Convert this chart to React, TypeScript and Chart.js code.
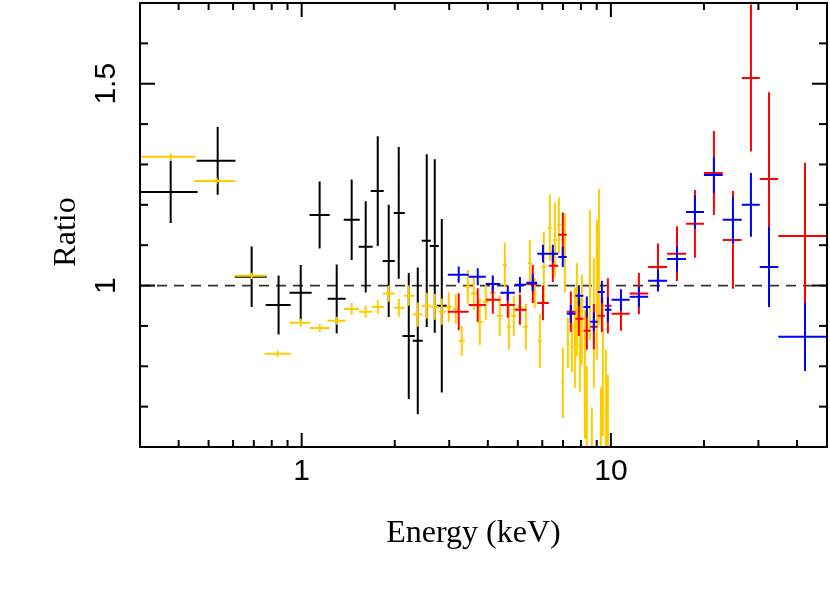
import React, { useEffect, useRef } from 'react';
import { Chart, registerables } from 'chart.js';

Chart.register(...registerables);

// ---------- axes ----------
const X_MIN = 0.3;
const X_MAX = 50;
const Y_MIN = 0.6;
const Y_MAX = 1.7;
const X_TICKS = [0.3, 0.4, 0.5, 0.6, 0.7, 0.8, 0.9, 1, 2, 3, 4, 5, 6, 7, 8, 9, 10, 20, 30, 40, 50];
const X_MAJOR = [1, 10];
const X_TICK_LABELS: Record<string, string> = { '1': '1', '10': '10' };
const Y_TICKS = [0.6, 0.7, 0.8, 0.9, 1.0, 1.1, 1.2, 1.3, 1.4, 1.5, 1.6, 1.7];
const Y_MAJOR = [1, 1.5];
const Y_TICK_LABELS: Record<string, string> = { '1': '1', '1.5': '1.5' };
const X_TITLE = 'Energy (keV)';
const Y_TITLE = 'Ratio';
const REF_LINE = 1;

// ---------- black series ----------
const BLACK_E = [0.377, 0.535, 0.689, 0.842, 0.993, 1.143, 1.298, 1.451, 1.611, 1.762, 1.912, 2.06, 2.22, 2.374, 2.538, 2.694, 2.839];
const BLACK_E_LO = [0.301, 0.457, 0.607, 0.765, 0.914, 1.061, 1.214, 1.368, 1.529, 1.672, 1.828, 1.985, 2.12, 2.286, 2.445, 2.596, 2.735];
const BLACK_E_HI = [0.461, 0.611, 0.77, 0.921, 1.077, 1.232, 1.388, 1.541, 1.697, 1.842, 2.0, 2.155, 2.321, 2.464, 2.616, 2.776, 2.946];
const BLACK_RATIO = [1.232, 1.309, 1.022, 0.952, 0.982, 1.175, 0.967, 1.163, 1.096, 1.234, 1.061, 1.18, 0.875, 0.863, 1.111, 1.098, 0.95];
const BLACK_ERR = [0.077, 0.084, 0.075, 0.073, 0.069, 0.083, 0.085, 0.1, 0.113, 0.136, 0.139, 0.163, 0.156, 0.182, 0.214, 0.215, 0.215];

// ---------- gold series ----------
const GOLD_E = [0.377, 0.531, 0.689, 0.836, 0.993, 1.144, 1.298, 1.451, 1.611, 1.762, 1.913, 2.061, 2.22, 2.374, 2.538, 2.694, 2.839, 2.991, 3.15, 3.294, 3.445, 3.602, 3.767, 3.939, 4.15, 4.372, 4.539, 4.677, 4.854, 5.076, 5.308, 5.469, 5.675, 5.891, 6.07, 6.347, 6.589, 6.788, 6.993, 7.098, 7.259, 7.479, 7.648, 7.763, 7.938, 8.057, 8.24, 8.362, 8.551, 8.68, 8.811, 9.01, 9.146, 9.282, 9.421, 9.634, 9.78];
const GOLD_E_LO = [0.301, 0.45, 0.607, 0.759, 0.914, 1.061, 1.214, 1.368, 1.529, 1.685, 1.829, 1.985, 2.139, 2.287, 2.445, 2.615, 2.776, 2.924, 3.081, 3.222, 3.369, 3.523, 3.683, 3.852, 4.058, 4.276, 4.47, 4.61, 4.76, 4.98, 5.2, 5.39, 5.59, 5.81, 5.98, 6.25, 6.49, 6.69, 6.9, 7.05, 7.18, 7.4, 7.57, 7.72, 7.86, 8.02, 8.15, 8.32, 8.47, 8.63, 8.74, 8.93, 9.08, 9.21, 9.35, 9.56, 9.71];
const GOLD_E_HI = [0.454, 0.611, 0.765, 0.921, 1.069, 1.232, 1.388, 1.529, 1.697, 1.843, 2.0, 2.154, 2.321, 2.463, 2.615, 2.776, 2.924, 3.058, 3.222, 3.369, 3.523, 3.683, 3.852, 4.028, 4.243, 4.471, 4.61, 4.76, 4.95, 5.18, 5.39, 5.55, 5.76, 5.98, 6.16, 6.44, 6.69, 6.89, 7.05, 7.18, 7.35, 7.56, 7.72, 7.85, 8.02, 8.14, 8.32, 8.42, 8.63, 8.74, 8.88, 9.08, 9.21, 9.35, 9.49, 9.71, 9.85];
const GOLD_RATIO = [1.319, 1.259, 1.024, 0.831, 0.908, 0.895, 0.913, 0.942, 0.935, 0.947, 0.98, 0.945, 0.975, 0.928, 0.95, 0.947, 0.935, 0.947, 0.942, 0.863, 0.997, 0.98, 0.91, 0.96, 0.982, 0.925, 1.051, 0.898, 0.925, 0.947, 0.898, 1.056, 0.982, 0.863, 1.046, 1.143, 1.113, 1.15, 0.759, 1.081, 0.858, 0.848, 0.871, 0.94, 0.853, 0.915, 0.78, 0.7, 1.027, 0.618, 0.908, 0.989, 1.071, 0.648, 0.799, 0.705, 0.655];
const GOLD_ERR = [0.008, 0.008, 0.008, 0.008, 0.01, 0.01, 0.01, 0.015, 0.015, 0.017, 0.02, 0.022, 0.025, 0.03, 0.032, 0.032, 0.032, 0.037, 0.037, 0.037, 0.042, 0.04, 0.057, 0.045, 0.037, 0.05, 0.055, 0.057, 0.05, 0.042, 0.057, 0.057, 0.037, 0.067, 0.087, 0.082, 0.092, 0.069, 0.087, 0.099, 0.062, 0.062, 0.124, 0.116, 0.116, 0.111, 0.16, 0.1, 0.161, 0.08, 0.161, 0.173, 0.168, 0.1, 0.173, 0.136, 0.124];

// ---------- hard-band bins shared by red and blue ----------
const HARD_E = [3.22, 3.71, 4.15, 4.64, 5.08, 5.59, 6.03, 6.49, 6.99, 7.42, 7.88, 8.36, 8.81, 9.35, 9.78, 10.78, 12.32, 14.2, 16.36, 18.7, 21.54, 24.82, 28.38, 32.46, 42.45];
const HARD_E_LO = [2.97, 3.47, 3.94, 4.39, 4.89, 5.33, 5.78, 6.3, 6.76, 7.2, 7.68, 8.15, 8.58, 9.06, 9.56, 10.05, 11.5, 13.2, 15.2, 17.5, 20.0, 23.0, 26.5, 30.3, 34.8];
const HARD_E_HI = [3.47, 3.94, 4.39, 4.89, 5.33, 5.78, 6.3, 6.76, 7.2, 7.68, 8.15, 8.58, 9.06, 9.56, 10.05, 11.5, 13.2, 15.2, 17.5, 20.0, 23.0, 26.5, 30.3, 34.8, 50.0];
const RED_RATIO = [0.935, 0.952, 0.965, 0.952, 0.94, 1.004, 0.957, 1.049, 1.126, 0.935, 0.918, 0.888, 0.898, 0.925, 0.95, 0.93, 0.98, 1.046, 1.079, 1.153, 1.279, 1.113, 1.514, 1.264, 1.123];
const RED_ERR = [0.046, 0.041, 0.035, 0.032, 0.037, 0.047, 0.043, 0.04, 0.055, 0.05, 0.043, 0.047, 0.056, 0.04, 0.068, 0.042, 0.051, 0.058, 0.068, 0.084, 0.104, 0.121, 0.182, 0.215, 0.181];
const BLUE_RATIO = [1.027, 1.022, 1.004, 0.982, 1.002, 1.007, 1.079, 1.079, 1.071, 0.93, 0.975, 0.947, 0.91, 0.984, 0.94, 0.965, 0.972, 1.012, 1.066, 1.182, 1.274, 1.163, 1.2, 1.046, 0.873];
const BLUE_ERR = [0.02, 0.021, 0.021, 0.019, 0.019, 0.021, 0.022, 0.022, 0.025, 0.022, 0.026, 0.026, 0.024, 0.028, 0.031, 0.026, 0.025, 0.027, 0.031, 0.041, 0.045, 0.057, 0.079, 0.099, 0.085];

type Pt = { x: number; y: number | null };

function crosses(xc: number[], xlo: number[], xhi: number[], y: number[], ye: number[]): Pt[] {
  const pts: Pt[] = [];
  for (let i = 0; i < xc.length; i++) {
    pts.push({ x: xlo[i], y: y[i] }, { x: xhi[i], y: y[i] }, { x: xc[i], y: null });
    pts.push({ x: xc[i], y: y[i] - ye[i] }, { x: xc[i], y: y[i] + ye[i] }, { x: xc[i], y: null });
  }
  return pts;
}

function errDataset(label: string, color: string, data: Pt[], order: number) {
  return {
    label,
    data,
    showLine: true,
    spanGaps: false,
    borderColor: color,
    backgroundColor: color,
    borderWidth: 2,
    borderCapStyle: 'butt' as const,
    pointRadius: 0,
    pointHoverRadius: 0,
    tension: 0,
    order,
  };
}

const SANS = '"Liberation Sans", Arial, Helvetica, sans-serif';
const SERIF = '"Liberation Serif", "Times New Roman", Times, serif';

const framePlugin = {
  id: 'frameTicks',
  afterDraw(chart: any) {
    const { ctx, chartArea: a, scales } = chart;
    const xs = scales.x;
    const ys = scales.y;
    ctx.save();
    ctx.strokeStyle = '#000';
    ctx.lineWidth = 2;
    ctx.lineCap = 'butt';
    const seg = (x1: number, y1: number, x2: number, y2: number) => {
      ctx.beginPath();
      ctx.moveTo(x1, y1);
      ctx.lineTo(x2, y2);
      ctx.stroke();
    };
    xs.ticks.forEach((t: any) => {
      const px = xs.getPixelForValue(t.value);
      if (px <= a.left + 1 || px >= a.right - 1) return;
      const len = X_MAJOR.includes(t.value) ? 14 : 7;
      seg(px, a.bottom, px, a.bottom - len);
      seg(px, a.top, px, a.top + len);
    });
    ys.ticks.forEach((t: any) => {
      const py = ys.getPixelForValue(t.value);
      if (py <= a.top + 1 || py >= a.bottom - 1) return;
      const major = Y_MAJOR.some((m) => Math.abs(m - t.value) < 1e-9);
      const len = major ? 15 : 8;
      seg(a.left, py, a.left + len, py);
      seg(a.right, py, a.right - len, py);
    });
    ctx.strokeRect(a.left, a.top, a.right - a.left, a.bottom - a.top);

    ctx.fillStyle = '#000';
    ctx.font = `32px ${SERIF}`;
    ctx.textAlign = 'center';
    ctx.textBaseline = 'alphabetic';
    ctx.fillText(X_TITLE, (a.left + a.right) / 2 - 10, a.bottom + 95);
    ctx.translate(a.left - 65, (a.top + a.bottom) / 2 + 7);
    ctx.rotate(-Math.PI / 2);
    ctx.fillText(Y_TITLE, 0, 0);
    ctx.restore();
  },
};

export default function App() {
  const ref = useRef<HTMLCanvasElement | null>(null);
  useEffect(() => {
    if (!ref.current) return;
    const chart = new Chart(ref.current, {
      type: 'scatter',
      data: {
        datasets: [
          {
            label: 'ref',
            data: [{ x: X_MIN, y: REF_LINE }, { x: X_MAX, y: REF_LINE }],
            showLine: true,
            borderColor: '#333',
            borderWidth: 1.8,
            borderDash: [10, 7],
            pointRadius: 0,
            order: 5,
          } as any,
          errDataset('black', '#000000', crosses(BLACK_E, BLACK_E_LO, BLACK_E_HI, BLACK_RATIO, BLACK_ERR), 4) as any,
          errDataset('gold', '#FFCC00', crosses(GOLD_E, GOLD_E_LO, GOLD_E_HI, GOLD_RATIO, GOLD_ERR), 3) as any,
          errDataset('red', '#FF0000', crosses(HARD_E, HARD_E_LO, HARD_E_HI, RED_RATIO, RED_ERR), 2) as any,
          errDataset('blue', '#0000FF', crosses(HARD_E, HARD_E_LO, HARD_E_HI, BLUE_RATIO, BLUE_ERR), 1) as any,
        ],
      },
      options: {
        responsive: false,
        animation: false,
        devicePixelRatio: 1,
        layout: { padding: { top: 3, right: 3, left: 0, bottom: 0 } },
        plugins: { legend: { display: false }, tooltip: { enabled: false }, title: { display: false } },
        events: [],
        scales: {
          x: {
            type: 'logarithmic',
            position: 'bottom',
            min: X_MIN,
            max: X_MAX,
            afterBuildTicks: (s: any) => {
              s.ticks = X_TICKS.map((v) => ({ value: v }));
            },
            afterFit: (s: any) => {
              s.height = 156;
              s.paddingLeft = 0;
              s.paddingRight = 0;
            },
            grid: { display: false, drawTicks: false },
            border: { display: false },
            ticks: {
              autoSkip: false,
              maxRotation: 0,
              minRotation: 0,
              padding: 7,
              color: '#000',
              font: { family: SANS, size: 30 },
              callback: (v: any) => X_TICK_LABELS[String(v)] ?? '',
            },
          },
          y: {
            type: 'linear',
            min: Y_MIN,
            max: Y_MAX,
            afterBuildTicks: (s: any) => {
              s.ticks = Y_TICKS.map((v) => ({ value: v }));
            },
            afterFit: (s: any) => {
              s.width = 140;
              s.paddingTop = 0;
              s.paddingBottom = 0;
            },
            grid: { display: false, drawTicks: false },
            border: { display: false },
            ticks: {
              autoSkip: false,
              minRotation: 90,
              maxRotation: 90,
              crossAlign: 'center',
              padding: 12,
              color: '#000',
              font: { family: SANS, size: 30 },
              callback: (v: any) => Y_TICK_LABELS[String(Math.round(Number(v) * 10) / 10)] ?? '',
            },
          },
        },
      } as any,
      plugins: [framePlugin],
    });
    return () => chart.destroy();
  }, []);

  return (
    <div style={{ position: 'fixed', left: 0, top: 0, width: 830, height: 603, background: '#fff' }}>
      <canvas ref={ref} width={830} height={603} style={{ display: 'block' }} />
    </div>
  );
}
